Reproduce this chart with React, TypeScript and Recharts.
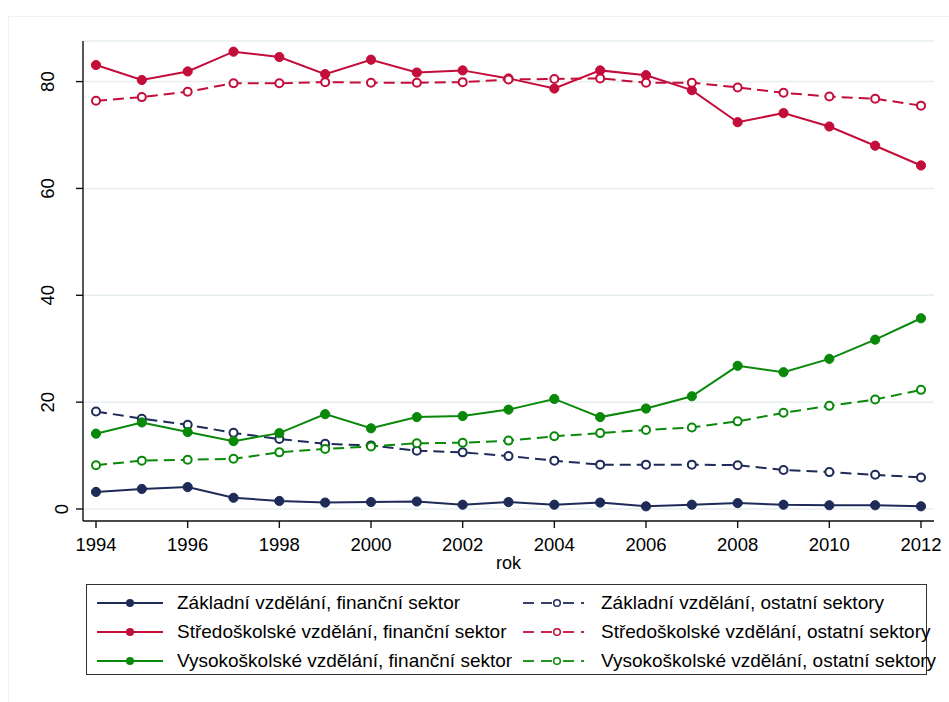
import React from 'react';
import { LineChart, Line, XAxis, YAxis, CartesianGrid } from 'recharts';

const years = [1994, 1995, 1996, 1997, 1998, 1999, 2000, 2001, 2002, 2003, 2004, 2005, 2006, 2007, 2008, 2009, 2010, 2011, 2012];
const xTicks = [1994, 1996, 1998, 2000, 2002, 2004, 2006, 2008, 2010, 2012];
const yTicks = [0, 20, 40, 60, 80];

const zakladniFin = [3.2, 3.75, 4.1, 2.1, 1.5, 1.2, 1.3, 1.4, 0.8, 1.3, 0.8, 1.2, 0.5, 0.8, 1.1, 0.8, 0.7, 0.7, 0.5];
const zakladniOst = [18.25, 16.9, 15.75, 14.25, 13.1, 12.2, 11.9, 10.9, 10.6, 9.9, 9.05, 8.3, 8.3, 8.3, 8.2, 7.3, 6.9, 6.4, 5.9];
const stredoFin = [83.1, 80.3, 81.9, 85.6, 84.6, 81.4, 84.1, 81.7, 82.1, 80.6, 78.7, 82.1, 81.2, 78.4, 72.4, 74.1, 71.6, 68.0, 64.3];
const stredoOst = [76.4, 77.1, 78.1, 79.7, 79.7, 79.9, 79.8, 79.8, 79.9, 80.4, 80.5, 80.6, 79.8, 79.8, 78.9, 77.9, 77.2, 76.8, 75.5];
const vysokoFin = [14.1, 16.2, 14.4, 12.7, 14.2, 17.75, 15.1, 17.2, 17.4, 18.6, 20.6, 17.2, 18.8, 21.1, 26.8, 25.6, 28.1, 31.7, 35.7];
const vysokoOst = [8.2, 9.05, 9.2, 9.4, 10.6, 11.25, 11.7, 12.3, 12.4, 12.8, 13.6, 14.2, 14.8, 15.25, 16.4, 18.0, 19.3, 20.5, 22.3];

const NAVY = '#1e2b58';
const RED = '#c30d3a';
const GREEN = '#0a880a';

const series = [
  { key: 'zf', name: 'Základní vzdělání, finanční sektor', color: NAVY, dashed: false, values: zakladniFin },
  { key: 'zo', name: 'Základní vzdělání, ostatní sektory', color: NAVY, dashed: true, values: zakladniOst },
  { key: 'sf', name: 'Středoškolské vzdělání, finanční sektor', color: RED, dashed: false, values: stredoFin },
  { key: 'so', name: 'Středoškolské vzdělání, ostatní sektory', color: RED, dashed: true, values: stredoOst },
  { key: 'vf', name: 'Vysokoškolské vzdělání, finanční sektor', color: GREEN, dashed: false, values: vysokoFin },
  { key: 'vo', name: 'Vysokoškolské vzdělání, ostatní sektory', color: GREEN, dashed: true, values: vysokoOst },
];

const data = years.map((year, i) => {
  const row: Record<string, number> = { year };
  series.forEach(s => { row[s.key] = s.values[i]; });
  return row;
});

const FONT = '"Liberation Sans", Arial, sans-serif';
const DASH = '11 6';

function YTick(props: any) {
  const { y, payload } = props;
  const label = String(payload.value);
  // single digit label sits closer to the axis in the original
  const cx = label.length === 1 ? 62 : 48;
  return (
    <text
      x={cx}
      y={y}
      transform={`rotate(-90, ${cx}, ${y})`}
      textAnchor="middle"
      dominantBaseline="central"
      fontSize={18.5}
      fontFamily={FONT}
      fill="#000"
    >
      {label}
    </text>
  );
}

function LegendSymbol({ color, dashed }: { color: string; dashed: boolean }) {
  return (
    <svg width={68} height={14} style={{ display: 'block' }}>
      {dashed ? (
        <>
          <line x1={0} y1={7} x2={11} y2={7} stroke={color} strokeWidth={1.8} />
          <line x1={18} y1={7} x2={29} y2={7} stroke={color} strokeWidth={1.8} />
          <circle cx={34} cy={7} r={3.3} fill="#fff" stroke={color} strokeWidth={1.5} />
          <line x1={40} y1={7} x2={51} y2={7} stroke={color} strokeWidth={1.8} />
          <line x1={58} y1={7} x2={61} y2={7} stroke={color} strokeWidth={1.8} />
        </>
      ) : (
        <>
          <line x1={0} y1={7} x2={66} y2={7} stroke={color} strokeWidth={2} />
          <circle cx={33} cy={7} r={4} fill={color} />
        </>
      )}
    </svg>
  );
}

export default function App() {
  return (
    <div style={{ position: 'absolute', left: 0, top: 0, width: 949, height: 702, overflow: 'hidden', background: '#fff' }}>
      <div style={{ position: 'absolute', left: 8, top: 16, width: 941, height: 686, borderTop: '1px solid #eef3f3', borderLeft: '1px solid #eef3f3' }} />
      <LineChart
        width={949}
        height={702}
        data={data}
        margin={{ top: 41, right: 15, bottom: 121, left: 0 }}
        style={{ position: 'absolute', left: 0, top: 0 }}
      >
        <CartesianGrid vertical={false} stroke="#e7eeee" strokeWidth={1.5} />
        <XAxis
          dataKey="year"
          type="number"
          domain={[1994, 2012]}
          ticks={xTicks}
          padding={{ left: 13, right: 13 }}
          height={60}
          tickSize={7}
          tickMargin={10}
          stroke="#111"
          strokeWidth={1.4}
          tick={{ fontSize: 18.5, fill: '#000', fontFamily: FONT }}
          label={{
            content: ({ viewBox }: any) => (
              <text
                x={viewBox.x + viewBox.width / 2}
                y={viewBox.y + 42}
                textAnchor="middle"
                dominantBaseline="central"
                fontSize={18}
                fontFamily={FONT}
                fill="#000"
              >
                rok
              </text>
            ),
          }}
        />
        <YAxis
          type="number"
          domain={[-2.25, 87.6]}
          ticks={yTicks}
          width={83}
          tickSize={7}
          stroke="#111"
          strokeWidth={1.4}
          tick={<YTick />}
          allowDataOverflow
        />
        {series.map(s => (
          <Line
            key={s.key}
            dataKey={s.key}
            name={s.name}
            stroke={s.color}
            strokeWidth={2}
            strokeDasharray={s.dashed ? DASH : undefined}
            dot={
              s.dashed
                ? { r: 4, fill: '#fff', stroke: s.color, strokeWidth: 2, strokeDasharray: '' }
                : { r: 4.6, fill: s.color, stroke: s.color, strokeWidth: 1 }
            }
            activeDot={false}
            isAnimationActive={false}
          />
        ))}
      </LineChart>
      <div
        style={{
          position: 'absolute',
          left: 86,
          top: 584,
          width: 841,
          height: 91,
          border: '1px solid #333',
          fontFamily: FONT,
          fontSize: 19,
          color: '#000',
          boxSizing: 'border-box',
        }}
      >
        {series.map((s, i) => {
          const col = i % 2;
          const row = Math.floor(i / 2);
          return (
            <div
              key={s.key}
              style={{
                position: 'absolute',
                left: col === 0 ? 10 : 436,
                top: 8 + row * 29,
                display: 'flex',
                alignItems: 'center',
                height: 20,
                whiteSpace: 'nowrap',
              }}
            >
              <LegendSymbol color={s.color} dashed={s.dashed} />
              <span style={{ marginLeft: col === 0 ? 12 : 10 }}>{s.name}</span>
            </div>
          );
        })}
      </div>
    </div>
  );
}
